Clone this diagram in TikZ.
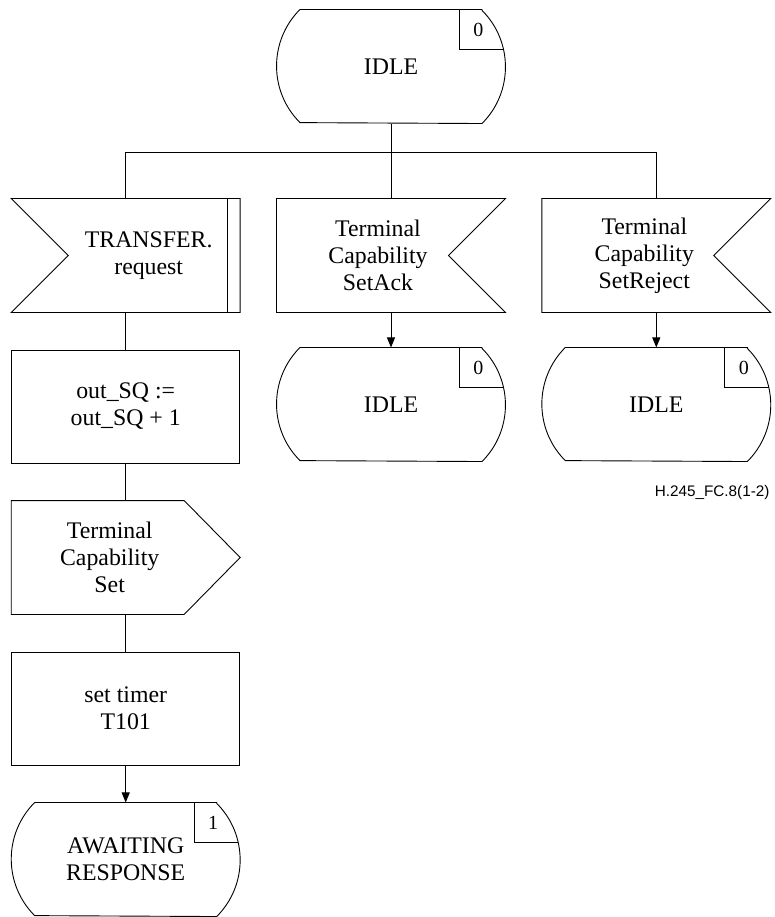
\documentclass[tikz,border=0pt]{standalone}
\usepackage{fontspec}
\setmainfont{Liberation Serif}
\newfontfamily\labelfont{Liberation Sans}
\usetikzlibrary{arrows.meta,
                positioning}

\newcommand\stateshape[2]{%
  \draw ([xshift=-23.43pt]#1.north east) -- ([xshift=23.43pt]#1.north west)
        arc[start angle=135, end angle=225, radius=80pt]
        -- ([xshift=-23.43pt]#1.south east)
        arc[start angle=-45, end angle=45, radius=80pt] -- cycle;
  \draw ([xshift=-46pt]#1.north east) |- ([xshift=-1.84pt,yshift=-39.5pt]#1.north east);
  \node (#1-n)[num] at ([xshift=-27pt,yshift=-20.5pt]#1.north east) {#2};
}
\newcommand\inleft[1]{%
  \draw (#1.north west) -- (#1.north east) -- (#1.south east) -- (#1.south west)
        -- ([xshift=57pt]#1.west) -- cycle;
  \draw ([xshift=-13pt]#1.north east) -- ([xshift=-13pt]#1.south east);
}
\newcommand\inright[1]{%
  \draw (#1.north west) -- (#1.north east) -- ([xshift=-57pt]#1.east)
        -- (#1.south east) -- (#1.south west) -- cycle;
}
\newcommand\outright[1]{%
  \draw (#1.north west) -- ([xshift=-56pt]#1.north east) -- (#1.east)
        -- ([xshift=-56pt]#1.south east) -- (#1.south west) -- cycle;
}

\begin{document}
\begin{tikzpicture}[
node distance = 151pt and 265.3pt, on grid,
line width = 0.9pt,
every node/.style = {align=center, font=\fontsize{23.8}{27}\selectfont},
box/.style = {minimum width=228pt, minimum height=113pt, inner sep=0pt},
task/.style = {box, draw},
state/.style = {box, minimum height=113.14pt},
num/.style = {inner sep=0pt, font=\fontsize{20}{22}\selectfont},
arr/.style = {-{Triangle[length=10pt, width=8pt]}}
                        ]
    \useasboundingbox (-391pt,66.5pt) rectangle (383pt,-850.5pt);
    % states and symbols
    \node (idle0)[state] {IDLE};
    \node (in2)[box, below=189pt of idle0] {};
    \node (in1)[box, left=of in2] {};
    \node (in3)[box, right=of in2] {};
    \node (task1)[task, below=of in1] {out\_SQ :=\\out\_SQ + 1};
    \node (out)[box, below=of task1] {};
    \node (task2)[task, below=of out] {set timer\\T101};
    \node (await)[state, below=of task2] {AWAITING\\RESPONSE};
    \node (idle2)[state, below=149pt of in2] {IDLE};
    \node (idle3)[state, below=149pt of in3] {IDLE};

    \stateshape{idle0}{0}
    \stateshape{idle2}{0}
    \stateshape{idle3}{0}
    \stateshape{await}{1}
    \inleft{in1}
    \inright{in2}
    \inright{in3}
    \outright{out}

    % texts of the signals
    \node (in1-t) at ([xshift=23pt]in1.center) {TRANSFER.\\request};
    \node (in2-t) at ([xshift=-13pt]in2.center) {Terminal\\Capability\\SetAck};
    \node (in3-t) at ([xshift=-12pt]in3.center) {Terminal\\Capability\\SetReject};
    \node (out-t) at ([xshift=-16pt]out.center) {Terminal\\Capability\\Set};

    % connectors
    \coordinate (bus) at ([yshift=-29pt]idle0.south);
    \draw   (idle0.south) -- (bus)
            (in1.north) |- (bus) -| (in3.north)
            (bus) -- (in2.north);
    \draw   (in1.south) -- (task1.north)
            (task1.south) -- (out.north)
            (out.south) -- (task2.north);
    \draw[arr] (task2.south) -- (await.north);
    \draw[arr] (in2.south) -- (idle2.north);
    \draw[arr] (in3.south) -- (idle3.north);

    \node (fig)[anchor=base east, inner sep=0pt, font=\labelfont\fontsize{15.3}{18}\selectfont]
        at (379pt,-430pt) {H.245\_FC.8(1-2)};
\end{tikzpicture}
\end{document}
